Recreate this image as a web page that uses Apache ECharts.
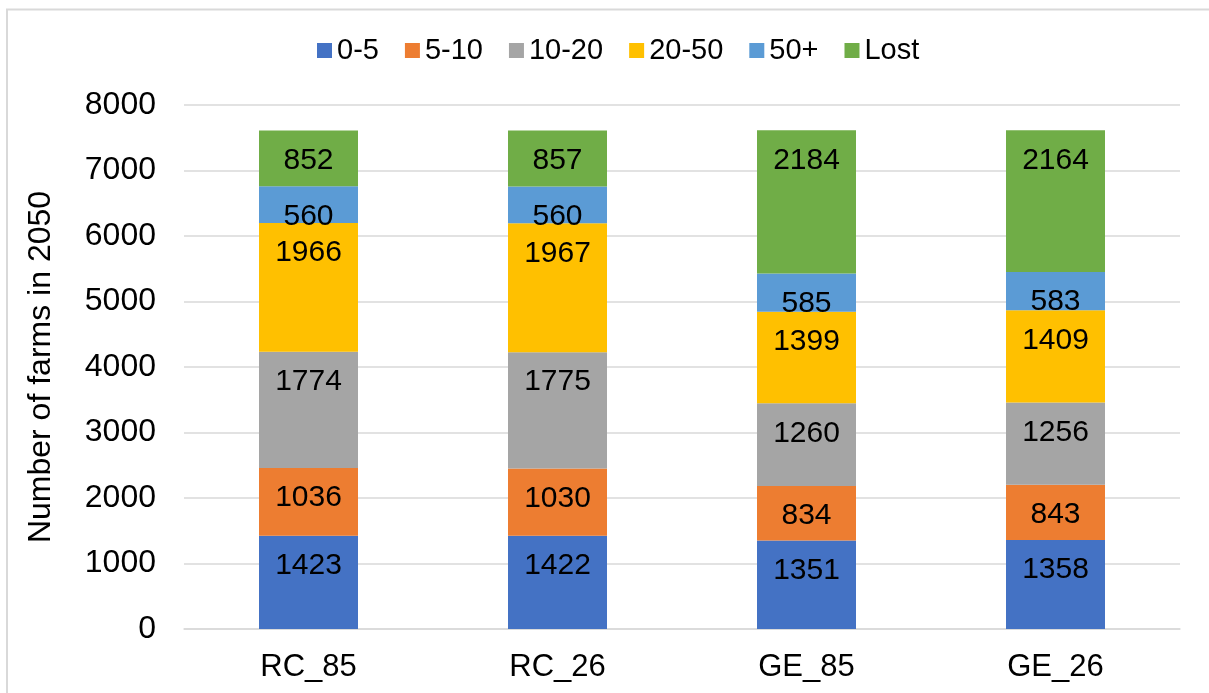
<!DOCTYPE html>
<html>
<head>
<meta charset="utf-8">
<script src="https://cdn.jsdelivr.net/npm/echarts@6/dist/echarts.min.js"></script>
<style>
  html, body { margin: 0; padding: 0; background: #fff; }
  #chart { width: 1209px; height: 693px; }
</style>
</head>
<body>
<div id="chart"></div>
<script>
// scenarios on the x axis
const categories = ["RC_85", "RC_26", "GE_85", "GE_26"];
// farm size classes, stacked bottom to top
const sizeClasses = ["0-5", "5-10", "10-20", "20-50", "50+", "Lost"];
const farms0to5 = [1423, 1422, 1351, 1358];
const farms5to10 = [1036, 1030, 834, 843];
const farms10to20 = [1774, 1775, 1260, 1256];
const farms20to50 = [1966, 1967, 1399, 1409];
const farms50plus = [560, 560, 585, 583];
const farmsLost = [852, 857, 2184, 2164];
const yTicks = [0, 1000, 2000, 3000, 4000, 5000, 6000, 7000, 8000];

const seriesData = [farms0to5, farms5to10, farms10to20, farms20to50, farms50plus, farmsLost];
const colors = ["#4472C4", "#ED7D31", "#A5A5A5", "#FFC000", "#5B9BD5", "#70AD47"];
const font = "'Liberation Sans', Arial, sans-serif";

const chart = echarts.init(document.getElementById("chart"));

const series = seriesData.map((values, i) => ({
  name: sizeClasses[i],
  type: "bar",
  stack: "total",
  barWidth: 99,
  data: values,
  itemStyle: { color: colors[i] },
  label: {
    show: true,
    position: "insideTop",
    distance: 15,
    color: "#000",
    fontSize: 30,
    fontFamily: font
  }
}));

const option = {
  animation: false,
  color: colors,
  textStyle: { fontFamily: font },
  graphic: [{
    type: "rect",
    shape: { x: 7, y: 9.5, width: 1400, height: 900 },
    style: { fill: null, stroke: "#d9d9d9", lineWidth: 2 },
    silent: true
  }],
  legend: {
    data: sizeClasses,
    top: 31,
    left: 312,
    itemWidth: 15,
    itemHeight: 15,
    itemGap: 26,
    icon: "rect",
    selectedMode: false,
    textStyle: { color: "#000", fontSize: 29, fontFamily: font }
  },
  grid: {
    left: 184,
    right: 29,
    top: 105,
    bottom: 64
  },
  xAxis: {
    type: "category",
    data: categories,
    axisLine: { lineStyle: { color: "#d9d9d9", width: 1.5 } },
    axisTick: { show: false },
    axisLabel: { color: "#000", fontSize: 31, fontFamily: font, margin: 23 }
  },
  yAxis: {
    type: "value",
    min: yTicks[0],
    max: yTicks[yTicks.length - 1],
    interval: yTicks[1] - yTicks[0],
    name: "Number of farms in 2050",
    nameLocation: "middle",
    nameGap: 127,
    nameTextStyle: { color: "#000", fontSize: 32, fontFamily: font },
    axisLine: { show: false },
    axisTick: { show: false },
    axisLabel: {
      color: "#000",
      fontSize: 32,
      fontFamily: font,
      margin: 28,
      formatter: (v) => String(v)
    },
    splitLine: { lineStyle: { color: "#d9d9d9", width: 1.5 } }
  },
  series
};

chart.setOption(option);
</script>
</body>
</html>
